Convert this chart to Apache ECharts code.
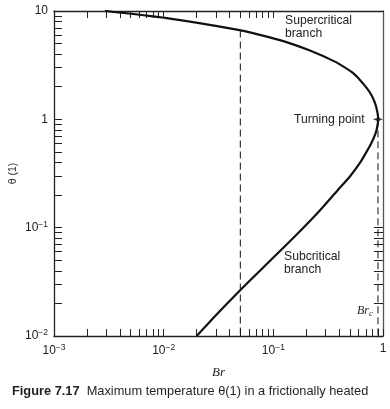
<!DOCTYPE html>
<html><head><meta charset="utf-8">
<script src="https://cdn.jsdelivr.net/npm/echarts@6/dist/echarts.min.js"></script>
<style>html,body{margin:0;padding:0;background:#fff}#c{width:390px;height:409px}</style>
</head><body><div id="c"></div>
<script>
// Curve: Br (x) vs theta(1) (y), ordered along the curve (supercritical -> turning point -> subcritical)
const brCurve    = [0.00292, 0.01065, 0.0479, 0.0755, 0.1276, 0.2157, 0.3643, 0.440, 0.5316, 0.616, 0.7086, 0.784, 0.844, 0.880, 0.904, 0.889, 0.852, 0.776, 0.698, 0.616, 0.4993, 0.388, 0.248, 0.1518, 0.0809, 0.0496, 0.0304, 0.0200];
const thetaCurve = [10,      8.58,    6.69,   6.02,   5.22,   4.31,   3.41,   3.05,  2.68,   2.31,  1.95,   1.68,  1.417, 1.22,  1.02,  0.869, 0.733, 0.593, 0.4895, 0.3958, 0.297, 0.2229, 0.1338, 0.0803, 0.0429, 0.0263, 0.0158, 0.010];
// Turning point
const turnBr = [0.9];
const turnTheta = [1.0];
// Dashed verticals (Br = 0.05 and Br_c)
const dashBr = [0.05, 0.9];
const dashTop = [6.6, 1.0];
const dashBottom = [0.01, 0.01];
// Axis tick values
const xTickLabels = [0.001, 0.01, 0.1, 1];
const yTickLabels = [0.01, 0.1, 1, 10];
const bottomTicks = [0.001,0.002,0.003,0.004,0.005,0.006,0.007,0.008,0.009,0.01,0.02,0.03,0.04,0.05,0.06,0.07,0.08,0.09,0.1,0.2,0.3,0.4,0.5,0.6,0.7,0.8,0.9,1];
const topTicks = [0.002,0.003,0.004,0.005,0.006,0.007,0.008,0.009,0.01,0.02,0.03,0.04,0.05,0.06,0.07,0.08,0.09,0.1];
const leftTicks = [0.01,0.02,0.03,0.04,0.05,0.06,0.07,0.08,0.09,0.1,0.2,0.3,0.4,0.5,0.6,0.7,0.8,0.9,1,2,3,4,5,6,7,8,9,10];
const rightTicks = [0.02,0.03,0.04,0.05,0.06,0.07,0.08,0.09,0.1];

const FONT = '"Liberation Sans", Arial, sans-serif';
const SERIF = '"Liberation Serif", "Times New Roman", serif';
const AX = '#222';
function powLabel(v){
  const e = Math.round(Math.log10(v));
  if (e === 0) return '{b|1}';
  if (e === 1) return '{b|10}';
  return '{b|10}{s|−' + (-e) + '}';
}
const richL = {b:{fontSize:12, fontFamily:FONT, color:'#222'}, s:{fontSize:8.5, fontFamily:FONT, color:'#222', verticalAlign:'bottom', padding:[0,0,7,0]}};

const chart = echarts.init(document.getElementById('c'), null, {renderer:'canvas'});
const series = [
  {type:'line', xAxisIndex:0, yAxisIndex:0, data: brCurve.map((b,i)=>[b, thetaCurve[i]]),
   smooth:0.25, showSymbol:false, lineStyle:{color:'#111', width:2.2}, z:5, silent:true},
];
dashBr.forEach((b,i)=>{
  series.push({type:'line', data:[[b, dashTop[i]],[b, dashBottom[i]]], showSymbol:false,
    lineStyle:{color:'#111', width:1, type:[7,4]}, silent:true, z:3});
});
series.push({type:'scatter', data: turnBr.map((b,i)=>[b, turnTheta[i]]), symbol:'path://M0,-10 L2.6,-2.6 L10,0 L2.6,2.6 L0,10 L-2.6,2.6 L-10,0 L-2.6,-2.6 Z',
  symbolSize:10, itemStyle:{color:'#111'}, z:6, silent:true});

chart.setOption({
  animation:false,
  backgroundColor:'#fff',
  grid:{left:54, right:7, top:11, bottom:73, containLabel:false, outerBoundsMode:'none'},
  xAxis:[
    {type:'log', min:0.001, max:1, logBase:10, position:'bottom',
     axisLine:{show:true, lineStyle:{color:AX, width:1.3}},
     axisTick:{show:true, inside:true, length:7, customValues: bottomTicks, lineStyle:{color:AX, width:1}},
     axisLabel:{show:true, customValues: xTickLabels, margin:7, formatter: powLabel, rich: richL},
     splitLine:{show:false}, minorTick:{show:false},
     name:'Br', nameLocation:'middle', nameGap:30, nameMoveOverlap:false,
     nameTextStyle:{fontFamily:SERIF, fontStyle:'italic', fontSize:13, color:'#222'}},
    {type:'log', min:0.001, max:1, logBase:10, position:'top',
     axisLine:{show:true, lineStyle:{color:AX, width:1.3}},
     axisTick:{show:true, inside:true, length:7, customValues: topTicks, lineStyle:{color:AX, width:1}},
     axisLabel:{show:false}, splitLine:{show:false}}
  ],
  yAxis:[
    {type:'log', min:0.01, max:10, logBase:10, position:'left',
     axisLine:{show:true, lineStyle:{color:AX, width:1.3}},
     axisTick:{show:true, inside:true, length:8, customValues: leftTicks, lineStyle:{color:AX, width:1}},
     axisLabel:{show:true, customValues: yTickLabels, margin:6, formatter: powLabel, rich: richL},
     splitLine:{show:false},
     name:'θ (1)', nameLocation:'middle', nameGap:35, nameRotate:90, nameMoveOverlap:false,
     nameTextStyle:{fontFamily:FONT, fontSize:10.5, color:'#222'}},
    {type:'log', min:0.01, max:10, logBase:10, position:'right',
     axisLine:{show:true, lineStyle:{color:'#555', width:1.3}},
     axisTick:{show:true, inside:true, length:9, customValues: rightTicks, lineStyle:{color:AX, width:1}},
     axisLabel:{show:false}, splitLine:{show:false}}
  ],
  graphic:[
    {type:'text', left:285, top:14, style:{text:'Supercritical\nbranch', fontFamily:FONT, fontSize:12.2, lineHeight:13, fill:'#222'}},
    {type:'text', left:294, top:114, style:{text:'Turning point', fontFamily:FONT, fontSize:12.2, fill:'#222'}},
    {type:'text', left:284, top:250, style:{text:'Subcritical\nbranch', fontFamily:FONT, fontSize:12.2, lineHeight:13, fill:'#222'}},
    {type:'text', left:357, top:305, style:{rich:{
        a:{fontFamily:SERIF, fontStyle:'italic', fontSize:12, fill:'#222'},
        c:{fontFamily:SERIF, fontStyle:'italic', fontSize:9, fill:'#222', verticalAlign:'bottom', padding:[6,0,0,0]}},
        text:'{a|Br}{c|c}'}},
    {type:'text', left:12, top:385, style:{rich:{
        f:{fontFamily:FONT, fontWeight:'bold', fontSize:12.8, fill:'#231f20'},
        t:{fontFamily:FONT, fontSize:12.8, fill:'#231f20'}},
        text:'{f|Figure 7.17}{t|  Maximum temperature θ(1) in a frictionally heated}'}}
  ],
  series: series
});
</script>
</body></html>
